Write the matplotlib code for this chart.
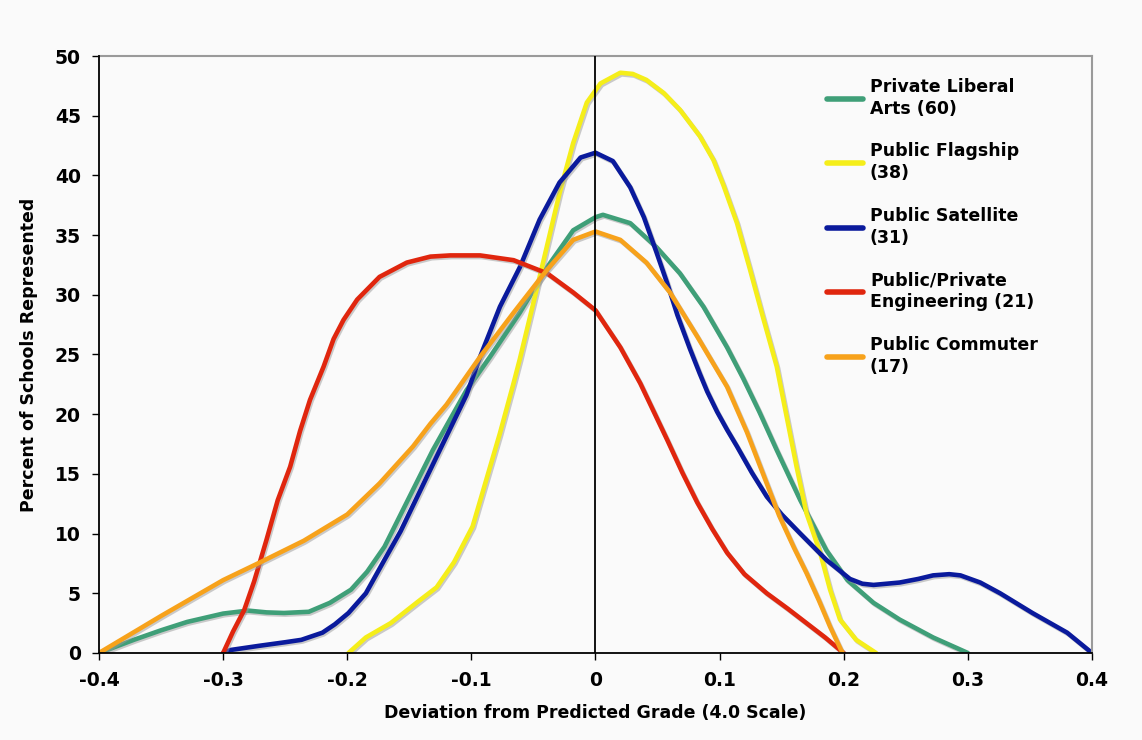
import matplotlib
matplotlib.use("Agg")
import matplotlib.pyplot as plt
import matplotlib.patheffects as pe

# values
labels = ["Private Liberal\nArts (60)", "Public Flagship\n(38)", "Public Satellite\n(31)",
          "Public/Private\nEngineering (21)", "Public Commuter\n(17)"]
colors = ["#3f9f78", "#f5ee1a", "#0a1a9c", "#e0260e", "#f7a21b"]

liberal_x = [-0.4, -0.372, -0.35, -0.329, -0.3, -0.28, -0.265, -0.251, -0.231, -0.214, -0.197,
             -0.184, -0.17, -0.157, -0.131, -0.104, -0.085, -0.061, -0.039, -0.018, 0.0, 0.006,
             0.028, 0.049, 0.068, 0.087, 0.106, 0.119, 0.132, 0.146, 0.165, 0.186, 0.203,
             0.224, 0.245, 0.272, 0.3]
liberal_y = [0, 1.1, 1.9, 2.6, 3.3, 3.55, 3.4, 3.35, 3.45, 4.2, 5.3,
             6.8, 8.9, 11.6, 17.0, 22.0, 24.8, 28.5, 32.3, 35.4, 36.5, 36.7,
             36.0, 34.0, 31.8, 29.0, 25.6, 23.0, 20.2, 17.0, 12.8, 8.6, 6.1,
             4.2, 2.8, 1.3, 0]

flagship_x = [-0.199, -0.185, -0.165, -0.143, -0.128, -0.114, -0.099, -0.088, -0.077, -0.066,
              -0.061, -0.045, -0.029, -0.018, -0.007, 0.004, 0.02, 0.03, 0.041, 0.055, 0.068,
              0.084, 0.095, 0.103, 0.114, 0.124, 0.135, 0.146, 0.154, 0.162, 0.17, 0.181,
              0.189, 0.197, 0.21, 0.226]
flagship_y = [0, 1.3, 2.5, 4.3, 5.5, 7.6, 10.6, 14.5, 18.4, 22.6,
              24.6, 31.5, 38.5, 42.7, 46.1, 47.7, 48.6, 48.5, 48.0, 46.9, 45.5,
              43.3, 41.3, 39.2, 36.0, 32.3, 28.1, 24.0, 19.8, 15.6, 11.7, 8.4,
              5.3, 2.8, 1.1, 0]

satellite_x = [-0.3, -0.294, -0.271, -0.25, -0.237, -0.22, -0.21, -0.199, -0.185, -0.17, -0.157,
               -0.131, -0.104, -0.093, -0.077, -0.061, -0.045, -0.029, -0.012, 0.0, 0.014,
               0.028, 0.039, 0.049, 0.058, 0.066, 0.076, 0.084, 0.09, 0.098, 0.106, 0.114,
               0.126, 0.138, 0.15, 0.165, 0.186, 0.205, 0.215, 0.224, 0.245, 0.26, 0.272,
               0.285, 0.294, 0.31, 0.326, 0.352, 0.38, 0.4]
satellite_y = [0, 0.25, 0.6, 0.9, 1.1, 1.7, 2.4, 3.35, 5.0, 7.8, 10.2,
               15.8, 21.6, 24.8, 29.0, 32.3, 36.3, 39.4, 41.5, 41.9, 41.2,
               39.0, 36.5, 33.6, 30.9, 28.3, 25.5, 23.4, 21.9, 20.2, 18.7, 17.3,
               15.1, 13.1, 11.6, 10.0, 7.8, 6.2, 5.8, 5.7, 5.9, 6.2, 6.5,
               6.6, 6.5, 5.9, 5.0, 3.35, 1.7, 0]

engineering_x = [-0.3, -0.292, -0.283, -0.275, -0.265, -0.256, -0.246, -0.238, -0.23, -0.219,
                 -0.211, -0.203, -0.192, -0.174, -0.152, -0.133, -0.117, -0.093, -0.066, -0.039,
                 -0.018, 0.0, 0.02, 0.036, 0.058, 0.07, 0.082, 0.094, 0.106, 0.12, 0.138,
                 0.155, 0.17, 0.185, 0.197, 0.2]
engineering_y = [0, 1.8, 3.6, 6.0, 9.5, 12.8, 15.6, 18.6, 21.2, 24.0,
                 26.3, 27.9, 29.6, 31.5, 32.7, 33.2, 33.3, 33.3, 32.9, 31.8,
                 30.2, 28.7, 25.6, 22.6, 17.8, 15.1, 12.6, 10.4, 8.4, 6.6, 5.0,
                 3.7, 2.5, 1.3, 0.25, 0]

commuter_x = [-0.4, -0.35, -0.3, -0.27, -0.235, -0.2, -0.174, -0.147, -0.133, -0.12, -0.093,
              -0.066, -0.039, -0.018, 0.0, 0.02, 0.041, 0.06, 0.082, 0.106, 0.122, 0.135,
              0.148, 0.16, 0.17, 0.18, 0.189, 0.199]
commuter_y = [0, 3.1, 6.1, 7.6, 9.4, 11.6, 14.2, 17.3, 19.2, 20.8, 24.8,
              28.5, 32.1, 34.6, 35.3, 34.6, 32.7, 30.2, 26.5, 22.3, 18.5, 15.0,
              11.5, 8.8, 6.7, 4.4, 2.2, 0]

series = [(liberal_x, liberal_y), (flagship_x, flagship_y), (satellite_x, satellite_y),
          (engineering_x, engineering_y), (commuter_x, commuter_y)]

x_ticks = [-0.4, -0.3, -0.2, -0.1, 0, 0.1, 0.2, 0.3, 0.4]
x_ticklabels = ["-0.4", "-0.3", "-0.2", "-0.1", "0", "0.1", "0.2", "0.3", "0.4"]
y_ticks = [0, 5, 10, 15, 20, 25, 30, 35, 40, 45, 50]

bg = "#fafafa"
fig = plt.figure(figsize=(11.42, 7.4), dpi=100, facecolor=bg)
ax = fig.add_axes([0.0867, 0.1176, 0.8695, 0.8067], facecolor=bg)

shadow = [pe.SimpleLineShadow(offset=(1, -1.2), shadow_color="#999999", alpha=0.5), pe.Normal()]
for (xs, ys), c, lab in zip(series, colors, labels):
    ax.plot(xs, ys, color=c, lw=3.3, label=lab, solid_capstyle="round",
            solid_joinstyle="round", path_effects=shadow, zorder=2)

ax.axvline(0, color="black", lw=1.3, zorder=3)

ax.set_xlim(-0.4, 0.4)
ax.set_ylim(0, 50)
ax.set_xticks(x_ticks)
ax.set_xticklabels(x_ticklabels)
ax.set_yticks(y_ticks)

for s in ["left", "bottom"]:
    ax.spines[s].set_color("black")
    ax.spines[s].set_linewidth(1.3)
    ax.spines[s].set_zorder(4)
for s in ["top", "right"]:
    ax.spines[s].set_color("#9a9a9a")
    ax.spines[s].set_linewidth(1.5)

ax.tick_params(direction="out", length=5, width=1, labelsize=13.5, pad=8)
for t in ax.get_xticklabels() + ax.get_yticklabels():
    t.set_fontweight("bold")

ax.set_xlabel("Deviation from Predicted Grade (4.0 Scale)", fontsize=12.5,
              fontweight="bold", labelpad=10)
ax.set_ylabel("Percent of Schools Represented", fontsize=12.5,
              fontweight="bold", labelpad=12)

leg = ax.legend(loc="upper left", bbox_to_anchor=(0.717, 0.99), frameon=False,
                prop={"weight": "bold", "size": 12.5}, handlelength=2.1,
                handletextpad=0.4, labelspacing=1.4)
for t in leg.get_texts():
    t.set_linespacing(1.3)
for h in leg.get_lines():
    h.set_path_effects([])
    h.set_linewidth(4)

fig.savefig("out.png", dpi=100, facecolor=bg)
